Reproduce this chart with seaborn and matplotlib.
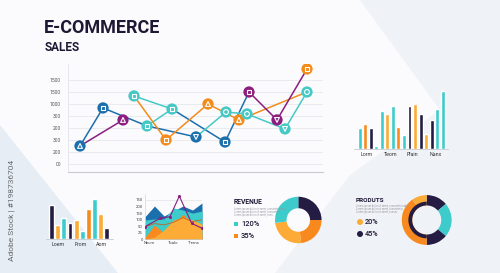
import numpy as np
import pandas as pd
import matplotlib
matplotlib.use('Agg')
import matplotlib.pyplot as plt
import seaborn as sns
from matplotlib.patches import Polygon, Rectangle, Circle

sns.set_theme(style='white')
plt.rcParams['font.family'] = ['Roboto', 'DejaVu Sans']

W, H = 500, 273
NAVY = '#241c43'; TEAL = '#3ecbcb'; ORANGE = '#f7891f'; LORANGE = '#fbab36'
BLUE = '#1c6fad'; PURPLE = '#8b1e7f'; LTEAL = '#46c9c6'; LORG = '#f28c1c'
TXT = '#1f1835'

# ---------------- data ----------------
# main line chart (x: position along the axis, y: tick index)
line_yticklabels = ['00', '200', '300', '200', '300', '1000', '1500', '1500']
blue_a_x = [12, 35, 79, 128];            blue_a_y = [1.5, 4.67, 3.17, 2.25]
blue_b_x = [104, 157, 181];              blue_b_y = [4.58, 1.83, 6.0]
teal_a_x = [66, 104, 79];                teal_a_y = [5.67, 4.58, 3.17]
teal_b_x = [128, 158, 179, 217, 239];    teal_b_y = [2.25, 4.33, 4.17, 2.92, 6.0]
orange_x = [66, 98, 140, 171, 239];      orange_y = [5.67, 2.0, 5.0, 3.67, 6.0]
purple_a_x = [12, 55];                   purple_a_y = [1.5, 3.67]
purple_b_x = [181, 209, 239];            purple_b_y = [6.0, 3.67, 7.92]

mk_x = [12, 35, 55, 66, 79, 98, 104, 128, 140, 157, 158, 171, 179, 181, 209, 217, 239, 239]
mk_y = [1.5, 4.67, 3.67, 5.67, 3.17, 2.0, 4.58, 2.25, 5.0, 1.83, 4.33, 3.67, 4.17, 6.0, 3.67, 2.92, 6.0, 7.92]
mk_series = ['blue', 'blue', 'purple', 'teal', 'teal', 'orange', 'teal', 'blue', 'orange', 'blue',
             'teal', 'orange', 'teal', 'purple', 'purple', 'teal', 'teal', 'orange']
mk_symbol = ['^', 's', '^', 's', 's', 's', 's', 'v', '^', 's', 'o', '^', 'o', 's', 'v', 'v', 'o', 's']

# top-right bar chart
tr_vals = [20.7, 24.7, 20.7, 3, 38.3, 35, 43, 22, 13.7, 43, 45, 35, 14.7, 28.7, 39.7, 58]
tr_cols = ['teal', 'orange', 'navy', 'teal', 'teal', 'lorange', 'teal', 'orange', 'teal', 'navy',
           'lorange', 'navy', 'lorange', 'navy', 'teal', 'teal']
tr_labels = ['Lorm', 'Teom', 'Plain', 'Nanx']

# bottom-left bar chart
bl_vals = [34, 14.3, 21, 15.7, 19.3, 7.7, 30.3, 39.7, 25.3, 10.7]
bl_cols = ['navy', 'lorange', 'teal', 'navy', 'lorange', 'teal', 'orange', 'teal', 'lorange', 'navy']
bl_labels = ['Loem', 'From', 'Aom']

# area chart
ar_x = [0, 1, 2, 3, 4, 5, 6]
ar_blue = [3.45, 5.08, 3.56, 4.33, 5.08, 4.47, 5.54]
ar_teal = [2.95, 3.1, 3.1, 4.78, 4.47, 4.0, 4.32]
ar_orange = [0.3, 2.18, 0.96, 2.34, 3.86, 2.18, 0.5]
ar_lorange = [0, 0.35, 1.42, 2.95, 3.4, 2.95, 2.34]
ar_brown = [1.9, 2.4, 2.2, 2.6, 3.3, 2.7, 3.0]
ar_purple_x = [0, 1.58, 2.63, 3.61, 4.91, 6.0]
ar_purple_y = [1.92, 3.2, 3.45, 6.6, 2.44, 1.68]
ar_yticklabels = ['0', '25', '50', '100', '150', '200', '150']
ar_labels = ['Neum', 'Toalo', 'Trems']

# donuts
rev_shares = [25, 23, 25, 27]
rev_cols = ['navy', 'orange', 'lorange', 'teal']
rev_legend = ['120%', '35%']
prod_shares = [50, 80, 50, 145, 35]
prod_cols = ['navy', 'teal', 'navy', 'orange', 'lorange']
prod_legend = ['20%', '45%']

PAL = {'navy': NAVY, 'teal': TEAL, 'orange': ORANGE, 'lorange': LORANGE,
       'blue': BLUE, 'purple': PURPLE}
LINE_PAL = {'blue': BLUE, 'teal': LTEAL, 'orange': LORG, 'purple': PURPLE}


def rect(l, t, r, b):
    return [l / W, 1 - b / H, (r - l) / W, (b - t) / H]


fig = plt.figure(figsize=(W / 100, H / 100), dpi=100)
fig.patch.set_facecolor('#fbfbfd')

# background shapes (pixel coords, y downwards)
def bgpoly(pts, color):
    fig.patches.append(Polygon([(x / W, 1 - y / H) for x, y in pts], closed=True,
                               transform=fig.transFigure, facecolor=color,
                               edgecolor='none', zorder=-10))

bgpoly([(0, 125), (0, 273), (118, 273)], '#e6edf5')
bgpoly([(360, 0), (500, 0), (500, 273), (275, 273), (350, 175), (440, 110)], '#eff2f6')

fig.text(12 / W, 1 - 210 / H, 'Adobe Stock | #198736704', rotation=90, fontsize=6,
         color='#6b6b6b', ha='center', va='center')

fig.text(44 / W, 1 - 28 / H, 'E-COMMERCE', fontsize=13, weight='bold', color=TXT, va='center')
fig.text(45 / W, 1 - 47 / H, 'SALES', fontsize=8.5, weight='bold', color=TXT, va='center')

# ---------------- main line chart ----------------
ax = fig.add_axes(rect(68, 64.4, 323, 172))
ax.set_facecolor('none')
segs = [('blue', blue_a_x, blue_a_y, 'ba'), ('blue', blue_b_x, blue_b_y, 'bb'),
        ('teal', teal_a_x, teal_a_y, 'ta'), ('teal', teal_b_x, teal_b_y, 'tb'),
        ('orange', orange_x, orange_y, 'o'), ('purple', purple_a_x, purple_a_y, 'pa'),
        ('purple', purple_b_x, purple_b_y, 'pb')]
rows = []
for s, xs, ys, sid in segs:
    for i, (x, y) in enumerate(zip(xs, ys)):
        rows.append({'x': x, 'y': y, 'seg': sid, 'series': s, 'ord': i})
ldf = pd.DataFrame(rows)
seg_pal = {sid: LINE_PAL[s] for s, _, _, sid in segs}
for y in range(8):
    ax.axhline(y, color='#e7e8ec', lw=0.6, zorder=0)
sns.lineplot(data=ldf, x='x', y='y', hue='seg', units='seg', palette=seg_pal, sort=False,
             estimator=None, legend=False, lw=1.1, ax=ax, zorder=2)
mdf = pd.DataFrame({'x': mk_x, 'y': mk_y, 'series': mk_series, 'sym': mk_symbol})
sns.scatterplot(data=mdf, x='x', y='y', hue='series', palette=LINE_PAL, s=66, linewidth=0,
                legend=False, ax=ax, zorder=3)
for sym in ['^', 's', 'v', 'o']:
    sub = mdf[mdf.sym == sym]
    sns.scatterplot(data=sub, x='x', y='y', hue='series', palette=LINE_PAL, marker=sym,
                    s=12, edgecolor='white', linewidth=0.8, legend=False, ax=ax, zorder=4)
ax.set_xlim(0, 255)
ax.set_ylim(-0.67, 8.3)
ax.set_yticks(range(8))
ax.set_yticklabels(line_yticklabels)
ax.set_xticks([])
ax.tick_params(axis='y', labelsize=3.6, colors='#555555', length=0, pad=5)
ax.set_xlabel(''); ax.set_ylabel('')
for sp in ['top', 'right']:
    ax.spines[sp].set_visible(False)
ax.spines['left'].set_color('#e3e4e8'); ax.spines['left'].set_linewidth(0.6)
ax.spines['bottom'].set_color('#c9cad0'); ax.spines['bottom'].set_linewidth(0.8)

# ---------------- top-right bars ----------------
ax2 = fig.add_axes(rect(354.2, 89, 448.2, 149))
ax2.set_facecolor('none')
tdf = pd.DataFrame({'i': range(len(tr_vals)), 'v': tr_vals, 'c': tr_cols})
sns.barplot(data=tdf, x='i', y='v', hue='i', palette=[PAL[c] for c in tr_cols],
            width=0.72, legend=False, ax=ax2, saturation=1)
ax2.set_xlim(-1, 16); ax2.set_ylim(0, 60)
ax2.set_xticks([1.3, 5.5, 9.6, 13.8]); ax2.set_xticklabels(tr_labels)
ax2.set_yticks([])
ax2.tick_params(axis='x', labelsize=3.8, colors='#333333', length=0, pad=2)
ax2.set_xlabel(''); ax2.set_ylabel('')
for sp in ['top', 'right', 'left']:
    ax2.spines[sp].set_visible(False)
ax2.spines['bottom'].set_color('#c9cad0'); ax2.spines['bottom'].set_linewidth(0.6)

# ---------------- bottom-left bars ----------------
ax3 = fig.add_axes(rect(45.6, 197, 112.8, 239))
ax3.set_facecolor('none')
bdf = pd.DataFrame({'i': range(len(bl_vals)), 'v': bl_vals, 'c': bl_cols})
sns.barplot(data=bdf, x='i', y='v', hue='i', palette=[PAL[c] for c in bl_cols],
            width=0.8, legend=False, ax=ax3, saturation=1)
ax3.set_xlim(-1, 10); ax3.set_ylim(0, 42)
ax3.set_xticks([1.08, 4.8, 8.2]); ax3.set_xticklabels(bl_labels)
ax3.set_yticks([])
ax3.tick_params(axis='x', labelsize=3.8, colors='#333333', length=0, pad=2)
ax3.set_xlabel(''); ax3.set_ylabel('')
for sp in ['top', 'right', 'left']:
    ax3.spines[sp].set_visible(False)
ax3.spines['bottom'].set_color('#c9cad0'); ax3.spines['bottom'].set_linewidth(0.6)

# ---------------- area chart ----------------
ax4 = fig.add_axes(rect(145, 194.1, 202, 239.3))
ax4.set_facecolor('none')
ax4.axhline(6, color='#e3e4e8', lw=0.5, zorder=0)
for vals, col in [(ar_blue, BLUE), (ar_teal, TEAL), (ar_orange, ORANGE), (ar_lorange, LORANGE)]:
    ax4.fill_between(ar_x, 0, vals, color=col, lw=0, zorder=1)
sns.lineplot(x=ar_x, y=ar_brown, color='#c8621a', lw=0.6, ax=ax4, zorder=2)
sns.lineplot(x=ar_purple_x, y=ar_purple_y, color=PURPLE, lw=0.8, ax=ax4, zorder=3,
             marker='o', markersize=2.2, markeredgewidth=0)
ax4.set_xlim(0, 6); ax4.set_ylim(0, 6.9)
ax4.set_yticks(range(7)); ax4.set_yticklabels(ar_yticklabels)
ax4.set_xticks([0.42, 2.95, 5.16]); ax4.set_xticklabels(ar_labels)
ax4.tick_params(axis='both', labelsize=3.0, colors='#444444', length=0, pad=1.5)
ax4.set_xlabel(''); ax4.set_ylabel('')
for sp in ['top', 'right']:
    ax4.spines[sp].set_visible(False)
ax4.spines['left'].set_color('#d5d6db'); ax4.spines['left'].set_linewidth(0.5)
ax4.spines['bottom'].set_color('#c9cad0'); ax4.spines['bottom'].set_linewidth(0.5)

# ---------------- revenue donut ----------------
ax5 = fig.add_axes(rect(273.3, 195, 323.3, 245))
ax5.pie(rev_shares, colors=[PAL[c] for c in rev_cols], startangle=90, counterclock=False,
        radius=0.93, wedgeprops=dict(width=0.46, linewidth=0))
ax5.set_xlim(-1, 1); ax5.set_ylim(-1, 1); ax5.axis('off')

fig.text(234 / W, 1 - 202.5 / H, 'REVENUE', fontsize=4.9, weight='bold', color=TXT, va='center')
for k, yy in enumerate([209, 212, 215]):
    fig.text(234 / W, 1 - yy / H, 'Lorem ipsum dolor sit amet, consectetur adip'[: 44 - 6 * k],
             fontsize=1.9, color='#9a9aa2', va='center')
for (lab, col), yy in zip(zip(rev_legend, [TEAL, ORANGE]), [224, 236]):
    fig.patches.append(Rectangle(((234) / W, 1 - (yy + 2.2) / H), 4.4 / W, 4.4 / H,
                                 transform=fig.transFigure, facecolor=col, edgecolor='none'))
    fig.text(241 / W, 1 - yy / H, lab, fontsize=5.4, weight='medium', color=TXT, va='center')

# ---------------- products donut ----------------
ax6 = fig.add_axes(rect(398.7, 192, 454.7, 248))
ax6.pie(prod_shares, colors=[PAL[c] for c in prod_cols], startangle=90, counterclock=False,
        radius=0.89, wedgeprops=dict(width=0.37, linewidth=0))
ax6.pie([180, 180], colors=['none', NAVY], startangle=90, counterclock=False,
        radius=0.655, wedgeprops=dict(width=0.135, linewidth=0))
ax6.set_xlim(-1, 1); ax6.set_ylim(-1, 1); ax6.axis('off')

fig.text(356 / W, 1 - 201 / H, 'PRODUTS', fontsize=4.6, weight='bold', color=TXT, va='center')
for k, yy in enumerate([206.5, 209.3, 212]):
    fig.text(356 / W, 1 - yy / H, 'Lorem ipsum dolor sit amet, consectetur adip'[: 46 - 6 * k],
             fontsize=1.9, color='#9a9aa2', va='center')
for (lab, col), yy in zip(zip(prod_legend, [LORANGE, NAVY]), [222, 234]):
    # circle in inch units so it stays round
    fig.patches.append(Circle((360 / 100, (H - yy) / 100), 0.03,
                              transform=fig.dpi_scale_trans,
                              facecolor=col, edgecolor='none'))
    fig.text(365 / W, 1 - yy / H, lab, fontsize=5.2, weight='medium', color=TXT, va='center')

fig.savefig('out.png', dpi=100, facecolor=fig.get_facecolor())
